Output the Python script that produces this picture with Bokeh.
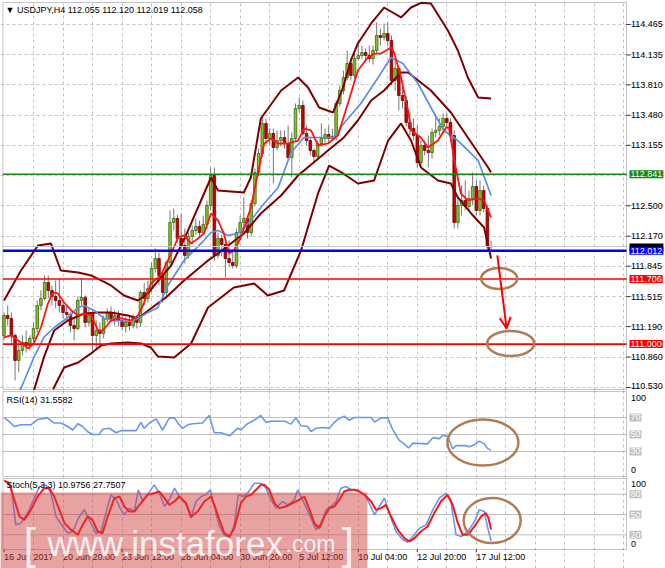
from bokeh.plotting import figure
from bokeh.layouts import column
from bokeh.models import (Range1d, FixedTicker, Grid, Label, BoxAnnotation, Arrow, OpenHead,
                          ColumnDataSource)
from bokeh.embed import file_html
from bokeh.resources import INLINE

FONT = "Liberation Sans"
FS = "9px"

# ---------------- data ----------------
first_open = 111.094
close = [
    111.310, 111.278, 111.094, 110.823, 110.931, 111.018, 110.985, 111.061, 111.169, 111.419,
    111.495, 111.668, 111.581, 111.516, 111.473, 111.419, 111.343, 111.321, 111.202, 111.169,
    111.473, 111.506, 111.235, 111.332, 111.094, 111.148, 111.115, 111.278, 111.343, 111.278,
    111.310, 111.256, 111.191, 111.235, 111.202, 111.278, 111.235, 111.560, 111.495, 111.603,
    111.820, 111.928, 111.744, 111.560, 111.885, 112.319, 112.362, 112.145, 112.069, 111.961,
    112.167, 112.232, 112.275, 112.210, 112.297, 112.503, 112.828, 111.961, 112.145, 112.080,
    111.928, 111.885, 111.852, 112.210, 112.319, 112.362, 112.210, 112.524, 112.861, 113.066,
    113.392, 113.229, 113.283, 113.132, 113.207, 113.240, 113.175, 113.023, 113.229, 113.554,
    113.587, 113.283, 113.207, 113.099, 113.034, 113.175, 113.229, 113.272, 113.229, 113.251,
    113.608, 113.749, 113.890, 114.042, 113.912, 114.096, 114.129, 114.161, 114.129, 114.096,
    114.183, 114.346, 114.324, 114.367, 114.291, 113.858, 113.988, 113.695, 113.641, 113.403,
    113.337, 113.262, 112.969, 113.153, 113.099, 113.077, 113.294, 113.316, 113.359, 113.446,
    113.403, 113.262, 112.319, 112.503, 112.557, 112.492, 112.579, 112.709, 112.449, 112.665,
    112.470, 112.055, 112.058]
high = [
    111.343, 111.419, 111.343, 111.115, 111.018, 111.094, 111.148, 111.094, 111.235, 111.473,
    111.581, 111.744, 111.744, 111.636, 111.690, 111.711, 111.473, 111.419, 111.343, 111.278,
    111.516, 111.711, 111.527, 111.386, 111.365, 111.256, 111.235, 111.310, 111.386, 111.408,
    111.365, 111.365, 111.321, 111.300, 111.310, 111.321, 111.310, 111.581, 111.657, 111.690,
    111.885, 112.037, 111.993, 111.798, 111.907, 112.449, 112.470, 112.405, 112.416, 112.253,
    112.210, 112.286, 112.362, 112.340, 112.394, 112.557, 112.915, 112.915, 112.210, 112.188,
    112.145, 112.123, 112.015, 112.253, 112.394, 112.590, 112.394, 112.557, 112.904, 113.121,
    113.478, 113.446, 113.337, 113.337, 113.316, 113.316, 113.316, 113.370, 113.294, 113.608,
    113.674, 113.641, 113.370, 113.251, 113.121, 113.207, 113.392, 113.337, 113.370, 113.337,
    113.641, 113.804, 113.966, 114.183, 114.096, 114.161, 114.291, 114.237, 114.205, 114.237,
    114.237, 114.487, 114.421, 114.476, 114.487, 114.346, 114.096, 114.020, 113.804, 113.695,
    113.511, 113.446, 113.370, 113.207, 113.207, 113.262, 113.337, 113.478, 113.446, 113.500,
    113.500, 113.446, 113.316, 112.579, 112.720, 112.774, 112.665, 112.861, 112.774, 112.774,
    112.720, 112.503, 112.120]
low = [
    111.039, 111.202, 110.985, 110.606, 110.693, 110.877, 110.909, 110.931, 111.018, 111.126,
    111.365, 111.473, 111.495, 111.419, 111.386, 111.343, 111.278, 111.256, 111.126, 111.039,
    111.148, 111.419, 111.180, 111.191, 110.909, 110.931, 110.953, 111.061, 111.235, 111.235,
    111.202, 111.191, 111.148, 111.126, 111.148, 111.169, 111.169, 111.191, 111.419, 111.451,
    111.560, 111.777, 111.636, 111.451, 111.516, 111.852, 112.232, 112.102, 112.015, 111.874,
    111.928, 112.080, 112.188, 112.167, 112.188, 112.253, 112.449, 111.907, 111.928, 111.950,
    111.722, 111.842, 111.820, 111.820, 112.178, 112.253, 112.145, 112.167, 112.492, 112.817,
    113.023, 113.153, 113.153, 112.741, 113.099, 113.142, 113.121, 112.991, 112.806, 113.207,
    113.511, 113.251, 113.153, 113.045, 112.958, 112.991, 113.142, 113.186, 113.186, 113.207,
    113.207, 113.576, 113.706, 113.858, 113.858, 113.879, 114.075, 114.096, 114.075, 114.053,
    114.031, 114.150, 114.237, 114.291, 114.237, 113.804, 113.749, 113.533, 113.554, 113.359,
    113.262, 113.207, 112.915, 112.936, 113.045, 112.915, 113.012, 113.240, 113.262, 113.316,
    113.337, 113.207, 112.253, 112.253, 112.394, 112.449, 112.449, 112.503, 112.394, 112.394,
    112.427, 112.015, 112.019]

ma_fast_x = [0, 1.9, 4.6, 6.5, 8.1, 10, 11.9, 13.3, 14.6, 16.3, 18.2, 20.1, 21.7, 23.6, 25.5,
             26.8, 29, 31.7, 34.4, 36.3, 37.9, 39.8, 42.5, 45.3, 47.2, 48.8, 50.7, 52.6, 54.2, 56.1,
             58, 59.6, 61, 62.3, 64.2, 66.9, 68.8, 70.5, 72.4, 74.3, 77, 79.7, 81.3, 83.2, 85.1,
             87.8, 90.5, 93.2, 95.9, 98.6, 100.3, 102.2, 104.9, 105.7, 107.6, 109.5, 110.3, 113,
             114.9, 117.6, 119.8, 120.6, 121.9, 123.8, 125.7, 128.5, 130.1, 132]
ma_fast_y = [111.072, 111.094, 111.018, 110.953, 111.007, 111.180, 111.440, 111.560, 111.549, 111.451,
             111.365, 111.310, 111.332, 111.310, 111.148, 111.148, 111.256, 111.278, 111.256, 111.310,
             111.440, 111.657, 111.744, 111.982, 112.156, 112.178, 112.091, 112.145, 112.199, 112.416,
             112.340, 112.199, 111.982, 112.015, 112.156, 112.481, 112.850, 113.175, 113.229, 113.175,
             113.175, 113.207, 113.337, 113.316, 113.153, 113.175, 113.262, 113.608, 113.966, 114.107,
             114.150, 114.150, 114.216, 114.161, 113.890, 113.533, 113.316, 113.240, 113.132, 113.207,
             113.348, 113.348, 113.023, 112.633, 112.557, 112.579, 112.557, 112.373]
ma_slow_x = [3.8, 8.1, 10.8, 13.6, 17.3, 20.1, 21.7, 24.4, 27.1, 29.8, 33.6, 36.3, 39, 41.7, 44.4,
             48.8, 53.4, 56.1, 58, 60.7, 63.4, 66.9, 70.5, 74.3, 77.8, 81.3, 85.9, 89.2, 92.1, 96.7,
             101.4, 104.9, 108.1, 112.2, 115.7, 119.2, 123, 128.5, 132]
ma_slow_y = [110.443, 110.855, 111.072, 111.180, 111.289, 111.397, 111.419, 111.365, 111.278, 111.256,
             111.245, 111.278, 111.343, 111.397, 111.636, 111.907, 112.091, 112.210, 112.232, 112.178,
             112.199, 112.340, 112.524, 112.698, 113.077, 113.240, 113.240, 113.240, 113.392, 113.608,
             113.890, 114.107, 114.042, 113.825, 113.565, 113.316, 113.207, 112.991, 112.611]
ma_long_x = [7.3, 10.8, 13.6, 17.3, 21.7, 25.5, 29, 33.6, 36.3, 39.8, 43.9, 48.8, 55.3, 58, 65,
             69.6, 75.1, 79.7, 87.8, 92.1, 95.9, 99.5, 103, 107.6, 109.5, 115.7, 121.1, 125.7, 131.2, 132]
ma_long_y = [110.389, 110.855, 111.148, 111.256, 111.332, 111.343, 111.343, 111.310, 111.278, 111.386,
             111.506, 111.690, 111.907, 111.982, 112.199, 112.416, 112.611, 112.828, 113.099, 113.240,
             113.424, 113.641, 113.749, 113.945, 113.945, 113.749, 113.511, 113.240, 112.915, 112.861]
band_up_x = [0, 4.6, 9.2, 12.7, 15.4, 20.1, 23.6, 29, 32.5, 36.3, 39, 42.5, 45.3, 49.3, 53.4, 56.1,
             58, 65, 66.9, 69.6, 75.1, 79.7, 82.4, 85.4, 89.2, 91.9, 94, 95.9, 99.5, 103, 107.6,
             110.3, 113, 115.7, 120.3, 123, 125.7, 128.5, 132]
band_up_y = [111.473, 111.798, 112.069, 112.091, 111.798, 111.777, 111.744, 111.636, 111.527, 111.473,
             111.549, 111.722, 111.852, 112.178, 112.557, 112.806, 112.665, 112.644, 112.806, 113.446,
             113.749, 113.890, 113.782, 113.565, 113.511, 113.782, 114.075, 114.259, 114.476, 114.649,
             114.541, 114.649, 114.700, 114.692, 114.400, 114.183, 113.890, 113.674, 113.663]
band_lo_x = [13.3, 16.3, 20.1, 23.6, 26.3, 29, 33.6, 37.1, 39.8, 41.7, 46.1, 50.7, 55.3, 62.3, 67.8,
             71.5, 75.9, 80.5, 85.1, 88.1, 91.9, 95.9, 100.3, 104.1, 107.6, 110.3, 113, 117.6, 121.1,
             123, 126.6, 130.1, 132]
band_lo_y = [110.510, 110.747, 110.801, 110.899, 110.985, 111.007, 111.018, 111.007, 110.963, 110.866,
             110.855, 111.007, 111.397, 111.614, 111.657, 111.527, 111.581, 112.015, 112.633, 112.936,
             112.850, 112.741, 112.774, 113.207, 113.392, 113.207, 112.915, 112.774, 112.741, 112.590,
             112.416, 112.264, 111.928]

rsi_x = [0.1, 1.4, 2.8, 4.6, 7.3, 9.1, 11.8, 13.6, 15.4, 17.3, 18.6, 20, 21.3, 22.7, 24, 25.8, 26.7,
         28.5, 30.4, 31.7, 35.8, 37.1, 38, 39.4, 41.2, 43, 44.8, 46.2, 47.1, 48.4, 49.8, 51.1, 53.8,
         55.6, 57, 58.8, 61.1, 63.3, 64.2, 66, 67.8, 69.6, 71, 72.4, 76, 77.8, 79.1, 80.5, 82.3, 83.2,
         84.6, 86.4, 88.2, 89.5, 90.4, 92.2, 93.6, 94.9, 99.5, 100.4, 102.2, 104, 105.3, 107.1, 108.5,
         109.6, 110.8, 114.8, 116.2, 118, 118.9, 120.2, 121.6, 122.5, 125.2, 126.1, 127.4, 128.8,
         130.2, 131, 132]
rsi_v = [69.6, 65.5, 59.4, 61.4, 61.4, 67.6, 69.6, 63.5, 63.5, 59.4, 55.3, 62.7, 59.4, 53.3, 50, 50,
         56.1, 57.3, 52, 54.5, 54.5, 64.3, 57.3, 63.5, 68.4, 55.3, 69.6, 69.6, 63.5, 57.3, 61.4, 62.7,
         63.5, 72.4, 52, 52, 48.4, 57.3, 55.3, 62.7, 66.7, 72.4, 64.3, 65.5, 65.5, 62.2, 69.6, 60.2,
         59.4, 53.3, 57.3, 58.2, 57.3, 64.3, 67.6, 71.6, 66.7, 70, 70, 64.7, 69.6, 69.6, 56.1, 43.1,
         39, 34.1, 39.8, 39, 46.3, 45.1, 49.2, 48, 32.9, 36.9, 36.9, 35.7, 37.8, 42.2, 39, 33.7, 31.6]

stoch_k_x = [0.1, 1.9, 3.2, 4.6, 6.4, 8.2, 9.6, 11.4, 12.7, 14.1, 15.9, 17.3, 18.6, 20.4, 21.8, 23.1,
             24.9, 26.3, 27.6, 29, 30.4, 31.7, 32.6, 34, 35.3, 36.4, 37.6, 38.9, 40.7, 42.1, 43.5,
             44.8, 46.2, 47.5, 49.3, 50.7, 52, 53.4, 54.7, 55.9, 57, 58.4, 59.7, 61.1, 62.4, 63.5,
             64.7, 66, 67.8, 69.6, 71, 72.4, 73.7, 75.5, 76.9, 78.7, 79.6, 80.9, 82.8, 84.6, 85.9,
             87.3, 88.6, 90, 91.3, 92.7, 94.1, 95.8, 97.7, 99, 100.4, 101.7, 103.1, 104.4, 106.2,
             108.1, 109.4, 110.8, 112.6, 114.4, 116.2, 118, 119.8, 121.1, 122.5, 123.9, 125.7, 127.5,
             128.8, 130.2, 131, 132]
stoch_k_v = [100, 91.4, 34.7, 37.2, 52, 74.1, 91.4, 93.8, 81.5, 47, 32.3, 22.4, 24.9, 47, 56.9, 42.1,
             22.4, 24.9, 52, 79.1, 71.7, 56.9, 49.5, 59.4, 54.4, 86.5, 69.2, 79.1, 93.8, 81.5, 61.8,
             71.7, 88.9, 76.6, 66.7, 44.6, 69.2, 76.6, 79.1, 86.5, 61.8, 32.3, 20, 15, 34.7, 79.1,
             76.6, 81.5, 96.3, 96.3, 88.9, 71.7, 59.4, 69.2, 64.3, 71.7, 86.5, 71.7, 49.5, 27.3, 37.2,
             56.9, 61.8, 69.2, 88.9, 91.4, 86.5, 86.5, 79.1, 66.7, 49.5, 61.8, 74.1, 52, 24.9, 12.6,
             9.1, 17.5, 29.8, 34.7, 56.9, 74.1, 81.5, 69.2, 20, 17.5, 24.9, 39.7, 56.9, 54.4, 32.3, 11.0]
stoch_d_x = [0.1, 1.4, 2.8, 4.2, 5.5, 7.3, 9.1, 10.9, 12.3, 13.6, 15, 16.4, 18.2, 20, 21.3, 22.7, 24,
             25.4, 26.7, 28.1, 29.9, 31.3, 32.6, 34, 35.3, 37.1, 38.9, 40.7, 42.1, 43.5, 44.8, 46.2,
             47.5, 49.3, 50.7, 52.5, 54.3, 56.1, 57, 58.4, 59.7, 61.1, 62.4, 64.2, 65.6, 67, 68.3,
             69.6, 70.6, 71.9, 73.3, 74.6, 76.4, 78.2, 80, 81.4, 82.8, 84.1, 85.5, 86.8, 88.2, 89.5,
             90.9, 92.2, 93.6, 95, 96.3, 97.7, 99.5, 100.8, 102.2, 103.5, 104.9, 106.7, 108.5, 109.9,
             111.2, 113, 114.8, 116.6, 118.4, 120.2, 121.6, 123, 124.3, 125.7, 127.5, 129.3, 130.6,
             131.3, 132]
stoch_d_v = [100, 96.3, 71.7, 47, 42.1, 56.9, 76.6, 88.9, 88.9, 76.6, 56.9, 37.2, 27.3, 20, 34.7, 47,
             42.1, 24.9, 22.4, 47, 74.1, 76.6, 61.8, 54.4, 54.4, 66.7, 79.1, 81.5, 84, 74.1, 64.3, 69.2,
             76.6, 66.7, 47, 54.4, 69.2, 76.6, 64.3, 42.1, 22.4, 17.5, 29.8, 66.7, 76.6, 79.1, 86.5,
             93.8, 93.8, 86.5, 66.7, 59.4, 61.8, 66.7, 71.7, 76.6, 56.9, 37.2, 29.8, 47, 59.4, 61.8,
             71.7, 84, 86.5, 86.5, 84, 79.1, 69.2, 56.9, 59.4, 64.3, 47, 27.3, 15, 10.1, 15, 24.9, 32.3,
             52, 69.2, 79.1, 64.3, 37.2, 20, 20, 32.3, 47, 52, 44.6, 27.8]

price_ticks = [114.465, 114.135, 113.810, 113.480, 113.155, 112.500, 112.170,
               111.845, 111.515, 111.190, 110.860, 110.530]
hidden_grid_price = [112.830]
date_ticks = [0, 16, 32, 48, 64, 80, 96, 112, 128]
date_labels = ["16 Jun 2017", "20 Jun 20:00", "23 Jun 12:00", "28 Jun 04:00", "30 Jun 20:00",
               "5 Jul 12:00", "10 Jul 04:00", "12 Jul 20:00", "17 Jul 12:00"]
grid_bars = list(range(8, 169, 8))

resistance = 112.841
pivot = 112.012
support1 = 111.706
support2 = 111.000
bid_price = 112.058
header = "\u25bc USDJPY,H4  112.055 112.120 112.019 112.058"
rsi_title = "RSI(14) 31.5582"
stoch_title = "Stoch(5,3,3) 10.9756 27.7507"
rsi_levels = [70, 50, 30]
stoch_levels = [80, 50, 20]

# ---------------- layout ----------------
XR = Range1d(-0.949, 179.27)     # whole canvas width in bar units
PL, PR = -0.3, 168.7              # panel left / right border (bar units)
TX = 169.9                        # start of right-hand scale texts
GRID_C = "#c4c4c4"
BORDER_C = "#3c3c3c"


def base_fig(h, yr, ybounds):
    p = figure(width=665, height=h, x_range=XR, y_range=yr,
               output_backend="svg", toolbar_location=None,
               x_axis_location=None, y_axis_location=None,
               min_border_left=0, min_border_right=0, min_border_top=0, min_border_bottom=0,
               background_fill_color="white", border_fill_color="white",
               outline_line_color=None)
    p.xgrid.visible = False
    p.ygrid.visible = False
    p.add_layout(Grid(dimension=0, ticker=FixedTicker(ticks=grid_bars), bounds=ybounds,
                      grid_line_color=GRID_C, grid_line_dash="3 3"))
    return p


def border(p, bottom, top):
    p.add_layout(BoxAnnotation(left=PL, right=PR, bottom=bottom, top=top, fill_color=None,
                               line_color=BORDER_C, line_width=1))


def txt(p, x, y, s, color="black", align="left", base="middle", bg=None, size=FS, xo=0, alpha=1.0):
    kw = dict(x=x, y=y, text=s, x_offset=xo, text_align=align, text_baseline=base,
              text_color=color, text_font=FONT, text_font_size=size, text_alpha=alpha)
    if bg is not None:
        kw.update(background_fill_color=bg, padding=1)
    p.add_layout(Label(**kw))


def hlines(p, ys, color, width):
    n = len(ys)
    p.segment(x0=[PL] * n, y0=ys, x1=[PR] * n, y1=ys, line_color=color, line_width=width)


# ---- main price panel (canvas 0..390 px) ----
MB, MT = 110.508, 114.703          # panel bottom / top prices
p1 = base_fig(390, Range1d(110.497, 114.725), (MB, MT))
p1.add_layout(Grid(dimension=1, ticker=FixedTicker(ticks=price_ticks + hidden_grid_price),
                   bounds=(PL, PR), grid_line_color=GRID_C, grid_line_dash="3 3"))

bars = list(range(len(close)))
opens = [first_open] + close[:-1]
src = ColumnDataSource(dict(
    x=bars, h=high, l=low,
    top=[max(o, c) for o, c in zip(opens, close)],
    bot=[min(o, c) for o, c in zip(opens, close)],
    fill=["#86c423" if c >= o else "#c80000" for o, c in zip(opens, close)],
    edge=["#3d6410" if c >= o else "#6e0000" for o, c in zip(opens, close)],
))
p1.segment(x0="x", y0="h", x1="x", y1="l", source=src, line_color="#767676", line_width=1)
p1.vbar(x="x", top="top", bottom="bot", width=0.7, fill_color="fill", line_color="edge",
        line_width=0.8, source=src)

MAROON = "#7f0000"
p1.line(band_up_x, band_up_y, line_color=MAROON, line_width=2)
p1.line(band_lo_x, band_lo_y, line_color=MAROON, line_width=2)
p1.line(ma_long_x, ma_long_y, line_color=MAROON, line_width=2)
p1.line(ma_slow_x, ma_slow_y, line_color="#5b8ee8", line_width=1.7)
p1.line(ma_fast_x, ma_fast_y, line_color="#ff1414", line_width=1.8)

hlines(p1, [bid_price], "#c8c8c8", 1)
hlines(p1, [resistance], "#138a13", 1.6)
hlines(p1, [pivot], "#0000ff", 2.6)
hlines(p1, [support1, support2], "#ff0000", 1.6)

ELL = "#b07d52"
p1.ellipse(x=[134.2], y=[111.711], width=36, height=21, width_units="screen",
           height_units="screen", fill_color=None, line_color=ELL, line_width=2.5)
p1.ellipse(x=[137.3], y=[111.007], width=47, height=25, width_units="screen",
           height_units="screen", fill_color=None, line_color=ELL, line_width=2.5)
p1.add_layout(Arrow(end=OpenHead(size=11, line_color="#ff0000", line_width=2),
                    x_start=133.7, y_start=111.961, x_end=136.2, y_end=111.17,
                    line_color="#ff0000", line_width=2))
border(p1, MB, MT)

# right price scale
n = len(price_ticks)
p1.segment(x0=[PR] * n, y0=price_ticks, x1=[PR + 1.1] * n, y1=price_ticks,
           line_color="#333333", line_width=1)
for v in price_ticks:
    yv = v if v > 110.6 else v + 0.015
    txt(p1, TX, yv, "%.3f" % v)
txt(p1, PR, resistance, "112.841", color="white", bg="#138a13", xo=3)
# bid label: almost completely hidden behind the blue level label
txt(p1, PR, bid_price - 0.010, "112.058", color="black", bg="black", xo=3)
txt(p1, PR, pivot, "112.012", color="white", bg="#0000ff", xo=3)
txt(p1, PR, support1, "111.706", color="white", bg="#ff0000", xo=3)
txt(p1, PR, support2, "111.000", color="white", bg="#ff0000", xo=3)
txt(p1, 0.41, 114.617, header)

# ---- RSI panel (canvas 390..477 px) ----
RB, RT = 0.5, 100.5
p2 = base_fig(87, Range1d(-0.59, 101.76), (RB, RT))
hlines(p2, rsi_levels, "#c0c0c0", 1)
p2.line(rsi_x, rsi_v, line_color="#6a97ee", line_width=1.6)
p2.ellipse(x=[129.8], y=[40.6], width=71, height=46, width_units="screen",
           height_units="screen", fill_color=None, line_color=ELL, line_width=2.5)
border(p2, RB, RT)
txt(p2, 0.68, 90.0, rsi_title)
txt(p2, TX, 93.5, "100")
txt(p2, TX, 8.8, "0")
for lv in rsi_levels:
    txt(p2, PR, lv, str(lv), color="white", bg="#c0c0c0", xo=3)

# ---- Stochastic panel (canvas 477..568 px) ----
SB, ST = -1.7, 103.2
p3 = base_fig(91, Range1d(-29.8, 104.7), (SB, ST))
hlines(p3, stoch_levels, "#c0c0c0", 1)
p3.line(stoch_k_x, stoch_k_v, line_color="#6a97ee", line_width=1.6)
p3.line(stoch_d_x, stoch_d_v, line_color="#ff1414", line_width=2)
p3.ellipse(x=[132.3], y=[41.1], width=57, height=45, width_units="screen",
           height_units="screen", fill_color=None, line_color=ELL, line_width=2.5)
border(p3, SB, ST)
txt(p3, 0.68, 92.9, stoch_title)
txt(p3, TX, 95.8, "100")
txt(p3, TX, 7.1, "0")
for lv in stoch_levels:
    txt(p3, PR, lv, str(lv), color="white", bg="#c0c0c0", xo=3)

# time scale
m = len(date_ticks)
p3.segment(x0=date_ticks, y0=[SB] * m, x1=date_ticks, y1=[SB - 4.0] * m,
           line_color="#333333", line_width=1)
for t, lab in zip(date_ticks, date_labels):
    txt(p3, t, -5.4, lab, base="top")

# watermark
p3.add_layout(BoxAnnotation(left=-1.0, right=98.5, top=82.5, bottom=-30,
                            fill_color="#d23c3c", fill_alpha=0.48, line_color=None))
txt(p3, 5.3, 7.1, "[", color="white", base="alphabetic", size="44px", alpha=0.85)
txt(p3, 11.8, 7.1, "www.instaforex", color="white", base="alphabetic", size="35px", alpha=0.85)
txt(p3, 76.3, 7.1, ".com", color="white", base="alphabetic", size="23px", alpha=0.85)
txt(p3, 91.5, 7.1, "]", color="white", base="alphabetic", size="44px", alpha=0.85)

layout = column(p1, p2, p3)
open("out.html", "w").write(file_html(layout, INLINE))
